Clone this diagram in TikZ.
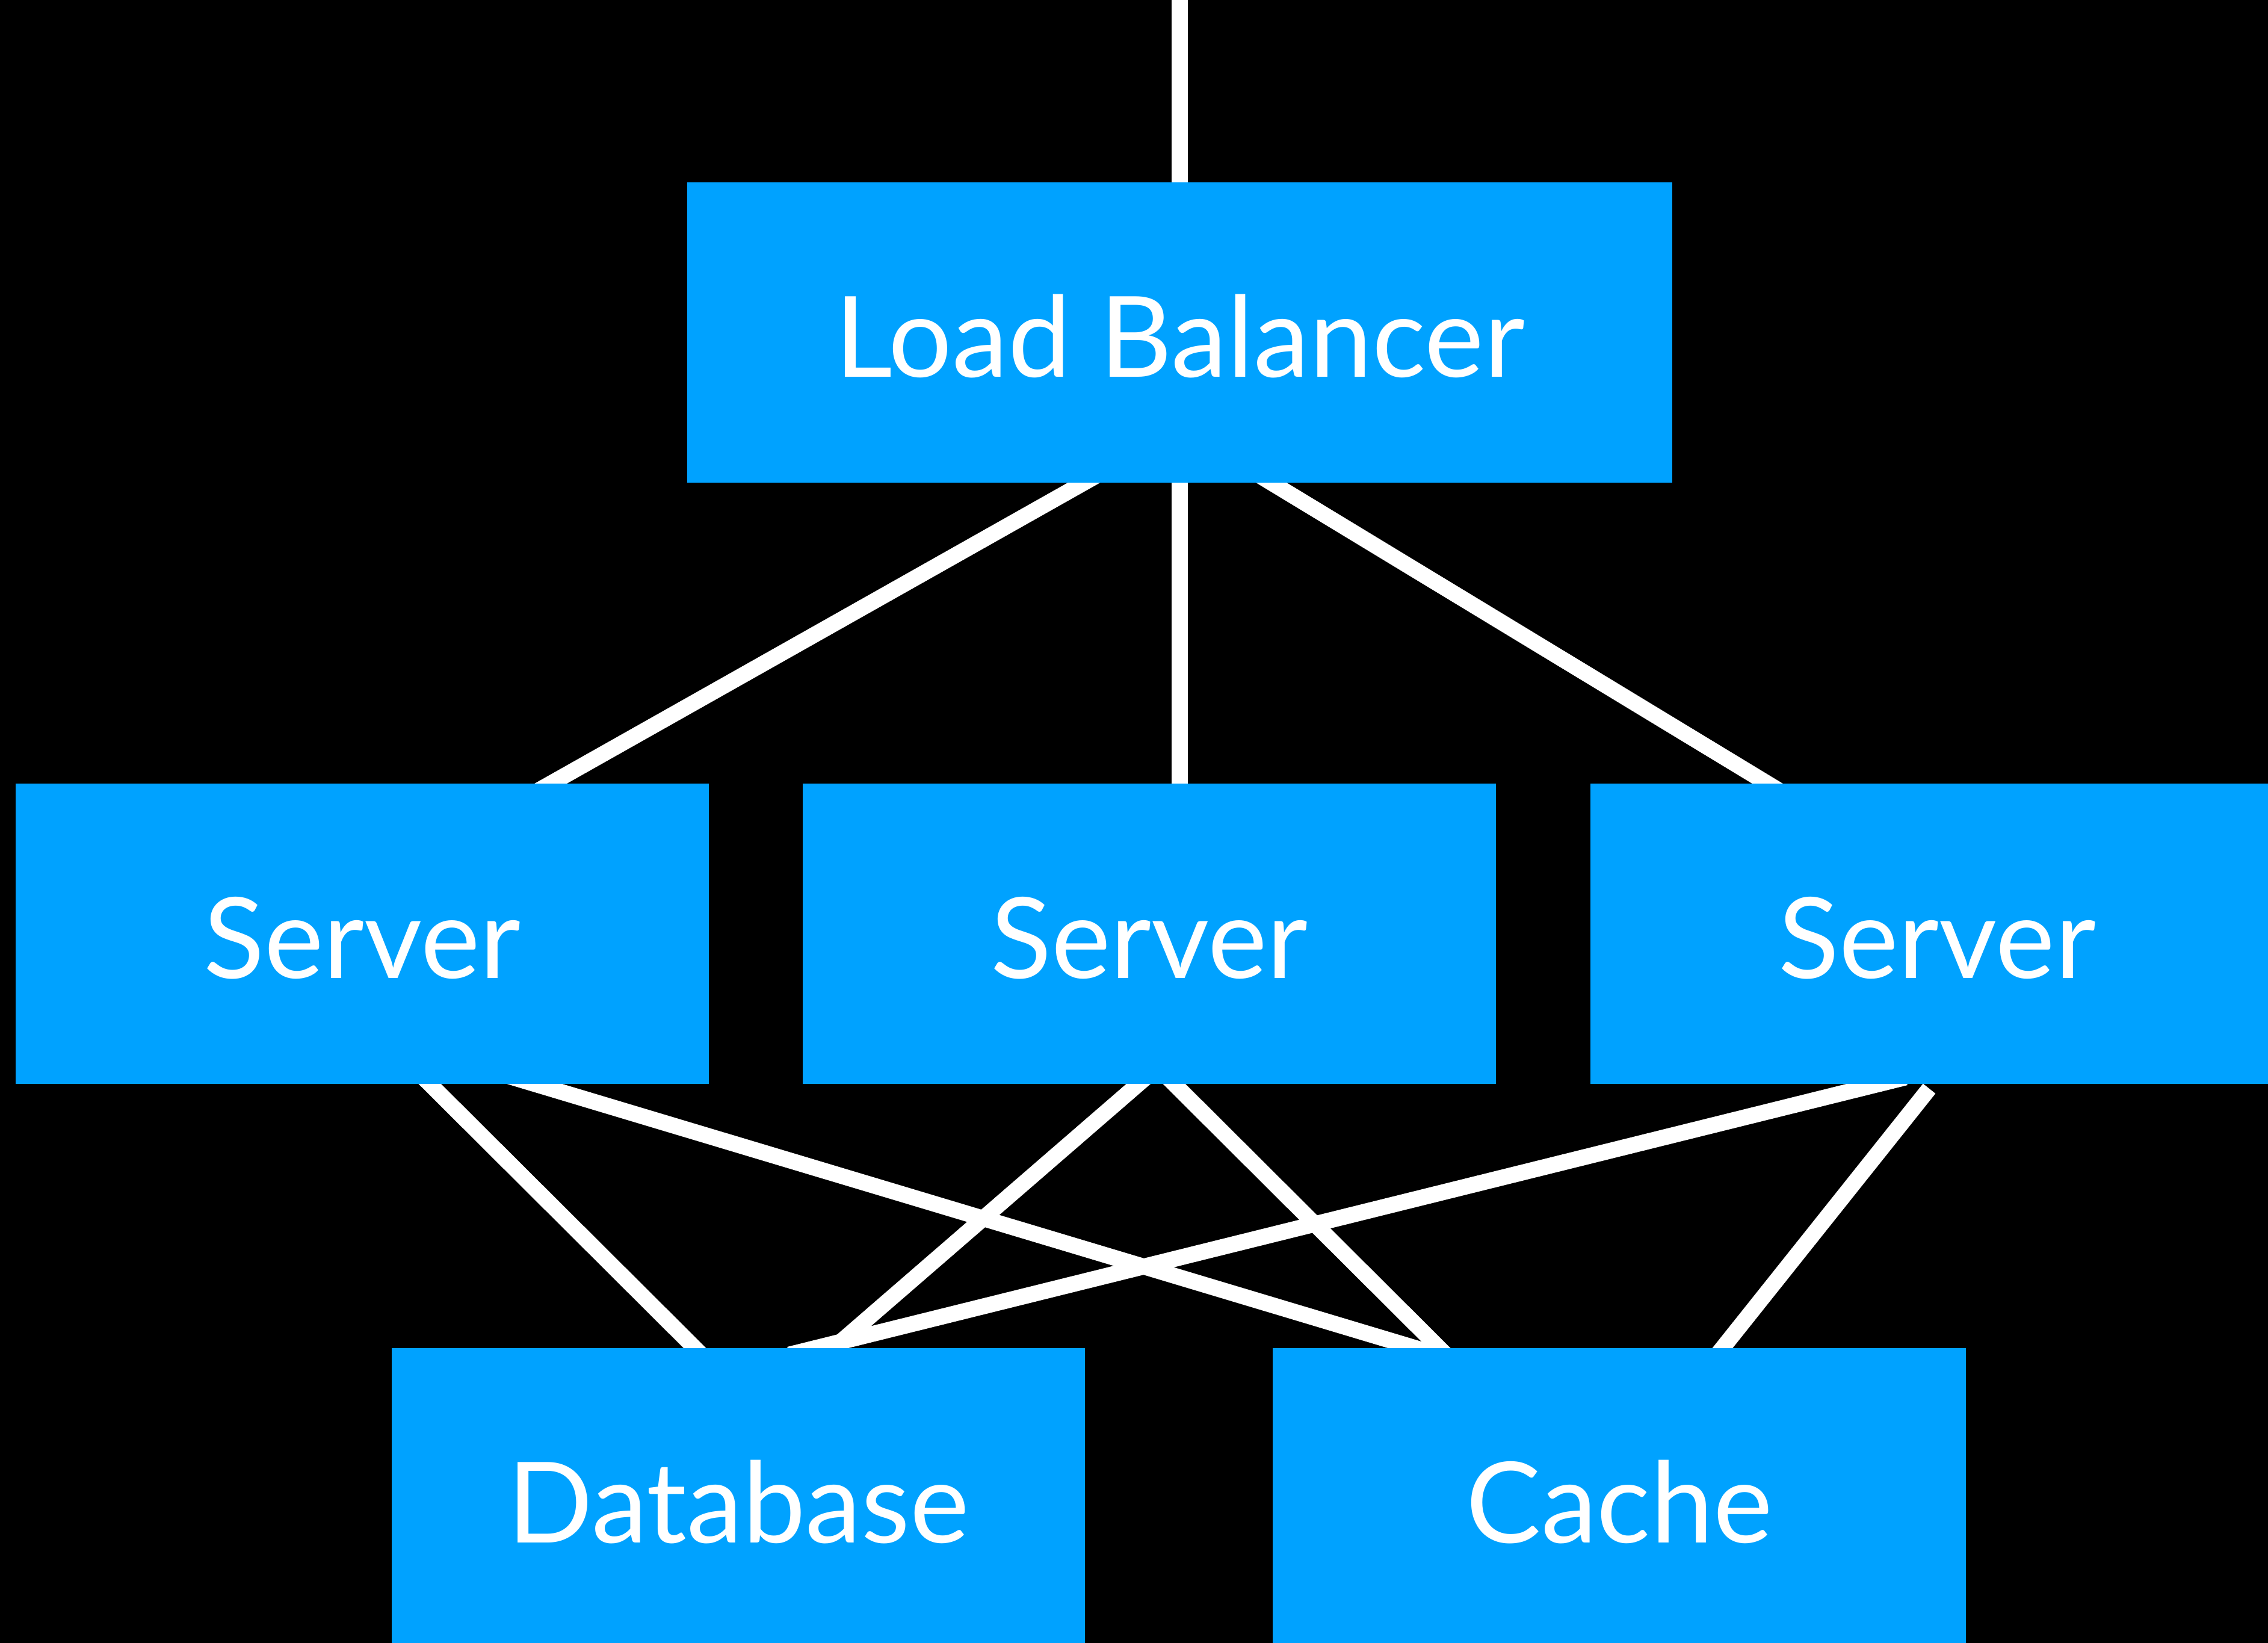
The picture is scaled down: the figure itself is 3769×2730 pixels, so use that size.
\documentclass[tikz,border=0pt]{standalone}
\usepackage{fontspec}
\setmainfont{Lato}
\pgfdeclarelayer{bg}
\pgfsetlayers{bg,main}
\definecolor{boxblue}{RGB}{0,162,255}
\begin{document}
\begin{tikzpicture}[x=0.25pt,y=-0.25pt,
  box/.style={fill=boxblue, draw=none, minimum width=288pt, minimum height=124.75pt,
    inner sep=0pt, text=white, font=\fontsize{46.65pt}{56pt}\selectfont,
    text height=37pt, text depth=0pt, anchor=center},
  link/.style={draw=white, line width=6.6pt, line cap=butt,
    shorten <=-12pt, shorten >=-12pt}]
\useasboundingbox (0,0) rectangle (3769,2730);
\clip (0,0) rectangle (3769,2730);
% boxes
\node[box, minimum width=409.25pt] (lb) at (1960.5,552.5) {Load Balancer};
\node[box] (s1) at (602,1551.5) {Server};
\node[box] (s2) at (1910,1551.5) {Server};
\node[box] (s3) at (3219,1551.5) {Server};
\node[box] (db) at (1227,2489.5) {Database};
\node[box] (ca) at (2691,2489.5) {Cache};
% connectors
\begin{pgfonlayer}{bg}
\fill[black] (0,0) rectangle (3769,2730);
\coordinate (entry) at (1960.5,-30);
\draw[link] (entry) -- (lb.north);
\draw[link] (lb.south) -- (lb.south |- s2.north);
\draw[link] ([shift={(-160.5,0)}]lb.south) -- ([shift={(314.5,0)}]s1.north);
\draw[link] ([shift={(153.5,0)}]lb.south) -- ([shift={(-283,0)}]s3.north);
\draw[link] ([shift={(113,0)}]s1.south) -- ([shift={(-73,0)}]db.north);
\draw[link] ([shift={(289,0)}]s1.south) -- ([shift={(-341,0)}]ca.north);
\draw[link] ([shift={(-19,0)}]s2.south) -- ([shift={(159,0)}]db.north);
\draw[link] ([shift={(42,0)}]s2.south) -- ([shift={(-300,0)}]ca.north);
\draw[link] ([shift={(-99,0)}]s3.south) -- ([shift={(131,0)}]db.north);
\draw[link, shorten <=0pt] ([shift={(-13,7)}]s3.south) -- ([shift={(172,0)}]ca.north);
\end{pgfonlayer}
\end{tikzpicture}
\end{document}
